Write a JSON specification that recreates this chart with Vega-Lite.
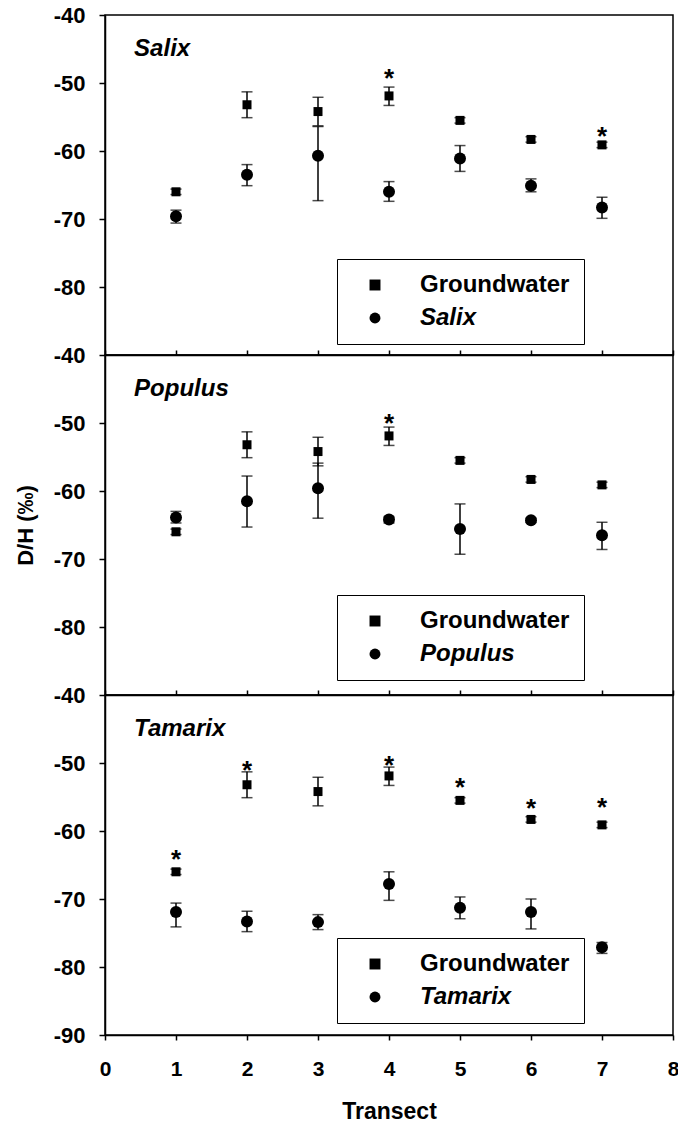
{
  "$schema": "https://vega.github.io/schema/vega-lite/v6.json",
  "padding": {"left": 13, "top": 3, "right": 0, "bottom": 0},
  "spacing": 0,
  "bounds": "flush",
  "config": {
    "view": {"stroke": "black", "strokeWidth": 1.5},
    "axis": {"grid": false, "labelFont": "Liberation Sans", "labelFontWeight": "bold", "labelFontSize": 21, "labelColor": "black",
      "titleFont": "Liberation Sans", "titleFontWeight": "bold", "titleColor": "black",
      "tickColor": "black", "tickWidth": 1.5, "domainColor": "black", "domainWidth": 1.5},
    "axisY": {"labelExpr": "'-' + abs(datum.value)", "labelFontSize": 22},
    "legend": {"labelFont": "Liberation Sans", "labelFontWeight": "bold", "labelFontSize": 24, "labelColor": "black"},
    "text": {"font": "Liberation Sans"}
  },
  "datasets": {
    "pts": [
      {"panel": "Salix", "series": "Groundwater", "transect": 1, "value": -66.0, "lo": -66.4, "hi": -65.6},
      {"panel": "Salix", "series": "Groundwater", "transect": 2, "value": -53.2, "lo": -55.1, "hi": -51.3},
      {"panel": "Salix", "series": "Groundwater", "transect": 3, "value": -54.2, "lo": -56.3, "hi": -52.1},
      {"panel": "Salix", "series": "Groundwater", "transect": 4, "value": -51.9, "lo": -53.3, "hi": -50.6},
      {"panel": "Salix", "series": "Groundwater", "transect": 5, "value": -55.5, "lo": -55.9, "hi": -55.1},
      {"panel": "Salix", "series": "Groundwater", "transect": 6, "value": -58.3, "lo": -58.7, "hi": -57.9},
      {"panel": "Salix", "series": "Groundwater", "transect": 7, "value": -59.1, "lo": -59.5, "hi": -58.7},
      {"panel": "Salix", "series": "Salix", "transect": 1, "value": -69.6, "lo": -70.6, "hi": -68.7},
      {"panel": "Salix", "series": "Salix", "transect": 2, "value": -63.5, "lo": -65.1, "hi": -62.0},
      {"panel": "Salix", "series": "Salix", "transect": 3, "value": -60.7, "lo": -67.3, "hi": -56.4},
      {"panel": "Salix", "series": "Salix", "transect": 4, "value": -66.0, "lo": -67.4, "hi": -64.5},
      {"panel": "Salix", "series": "Salix", "transect": 5, "value": -61.1, "lo": -63.0, "hi": -59.2},
      {"panel": "Salix", "series": "Salix", "transect": 6, "value": -65.1, "lo": -66.0, "hi": -64.1},
      {"panel": "Salix", "series": "Salix", "transect": 7, "value": -68.3, "lo": -69.9, "hi": -66.8},
      {"panel": "Populus", "series": "Groundwater", "transect": 1, "value": -66.0, "lo": -66.4, "hi": -65.6},
      {"panel": "Populus", "series": "Groundwater", "transect": 2, "value": -53.2, "lo": -55.1, "hi": -51.3},
      {"panel": "Populus", "series": "Groundwater", "transect": 3, "value": -54.2, "lo": -56.3, "hi": -52.1},
      {"panel": "Populus", "series": "Groundwater", "transect": 4, "value": -51.9, "lo": -53.3, "hi": -50.6},
      {"panel": "Populus", "series": "Groundwater", "transect": 5, "value": -55.5, "lo": -55.9, "hi": -55.1},
      {"panel": "Populus", "series": "Groundwater", "transect": 6, "value": -58.3, "lo": -58.7, "hi": -57.9},
      {"panel": "Populus", "series": "Groundwater", "transect": 7, "value": -59.1, "lo": -59.5, "hi": -58.7},
      {"panel": "Populus", "series": "Populus", "transect": 1, "value": -63.9, "lo": -64.7, "hi": -63.0},
      {"panel": "Populus", "series": "Populus", "transect": 2, "value": -61.5, "lo": -65.3, "hi": -57.8},
      {"panel": "Populus", "series": "Populus", "transect": 3, "value": -59.6, "lo": -64.0, "hi": -55.9},
      {"panel": "Populus", "series": "Populus", "transect": 4, "value": -64.2, "lo": -64.7, "hi": -63.8},
      {"panel": "Populus", "series": "Populus", "transect": 5, "value": -65.6, "lo": -69.3, "hi": -61.9},
      {"panel": "Populus", "series": "Populus", "transect": 6, "value": -64.3, "lo": -64.6, "hi": -64.0},
      {"panel": "Populus", "series": "Populus", "transect": 7, "value": -66.5, "lo": -68.6, "hi": -64.6},
      {"panel": "Tamarix", "series": "Groundwater", "transect": 1, "value": -66.0, "lo": -66.4, "hi": -65.6},
      {"panel": "Tamarix", "series": "Groundwater", "transect": 2, "value": -53.2, "lo": -55.1, "hi": -51.3},
      {"panel": "Tamarix", "series": "Groundwater", "transect": 3, "value": -54.2, "lo": -56.3, "hi": -52.1},
      {"panel": "Tamarix", "series": "Groundwater", "transect": 4, "value": -51.9, "lo": -53.3, "hi": -50.6},
      {"panel": "Tamarix", "series": "Groundwater", "transect": 5, "value": -55.5, "lo": -55.9, "hi": -55.1},
      {"panel": "Tamarix", "series": "Groundwater", "transect": 6, "value": -58.3, "lo": -58.7, "hi": -57.9},
      {"panel": "Tamarix", "series": "Groundwater", "transect": 7, "value": -59.1, "lo": -59.5, "hi": -58.7},
      {"panel": "Tamarix", "series": "Tamarix", "transect": 1, "value": -71.9, "lo": -74.1, "hi": -70.6},
      {"panel": "Tamarix", "series": "Tamarix", "transect": 2, "value": -73.3, "lo": -74.8, "hi": -71.8},
      {"panel": "Tamarix", "series": "Tamarix", "transect": 3, "value": -73.4, "lo": -74.5, "hi": -72.3},
      {"panel": "Tamarix", "series": "Tamarix", "transect": 4, "value": -67.8, "lo": -70.2, "hi": -66.0},
      {"panel": "Tamarix", "series": "Tamarix", "transect": 5, "value": -71.3, "lo": -72.9, "hi": -69.7},
      {"panel": "Tamarix", "series": "Tamarix", "transect": 6, "value": -71.9, "lo": -74.4, "hi": -70.0},
      {"panel": "Tamarix", "series": "Tamarix", "transect": 7, "value": -77.1, "lo": -78.0, "hi": -76.4}
    ],
    "stars": [
      {"panel": "Salix", "transect": 4, "star": -48.6},
      {"panel": "Salix", "transect": 7, "star": -57.1},
      {"panel": "Populus", "transect": 4, "star": -49.3},
      {"panel": "Tamarix", "transect": 1, "star": -63.4},
      {"panel": "Tamarix", "transect": 2, "star": -50.3},
      {"panel": "Tamarix", "transect": 4, "star": -49.6},
      {"panel": "Tamarix", "transect": 5, "star": -52.8},
      {"panel": "Tamarix", "transect": 6, "star": -55.9},
      {"panel": "Tamarix", "transect": 7, "star": -55.7}
    ]
  },
  "resolve": {"scale": {"shape": "independent"}, "legend": {"shape": "independent"}},
  "vconcat": [
    {
      "width": 568, "height": 340,
      "data": {"name": "pts"},
      "transform": [{"filter": "datum.panel == 'Salix'"}],
      "layer": [
        {"mark": {"type": "errorbar", "ticks": {"size": 11, "thickness": 1.5, "color": "black"}, "rule": {"strokeWidth": 1.5, "color": "black"}},
         "encoding": {
           "x": {"field": "transect", "type": "quantitative", "scale": {"domain": [0, 8], "nice": false},
                 "axis": {"values": [0,1,2,3,4,5,6,7,8], "labels": false, "tickSize": -5, "title": null}},
           "y": {"field": "lo", "type": "quantitative", "scale": {"domain": [-90, -40], "nice": false},
                 "axis": {"values": [-40,-50,-60,-70,-80], "tickSize": 6, "labelPadding": 14, "title": null}},
           "y2": {"field": "hi"}}},
        {"transform": [{"filter": "datum.series == 'Groundwater'"}],
         "mark": {"type": "point", "filled": true, "size": 81, "opacity": 1, "color": "black"},
         "encoding": {"x": {"field": "transect", "type": "quantitative"}, "y": {"field": "value", "type": "quantitative"},
           "shape": {"field": "series", "type": "nominal", "scale": {"domain": ["Groundwater", "Salix"], "range": ["square", "circle"]},
             "legend": {"orient": "none", "legendX": 232, "legendY": 244, "title": null, "padding": 14, "symbolOffset": 12, "labelOffset": 33,
               "rowPadding": 9, "strokeColor": "black", "fillColor": "white", "symbolSize": 120, "symbolFillColor": "black", "symbolStrokeWidth": 0,
               "labelFontStyle": {"expr": "datum.label == 'Groundwater' ? 'normal' : 'italic'"}}}}},
        {"transform": [{"filter": "datum.series != 'Groundwater'"}],
         "mark": {"type": "point", "filled": true, "size": 144, "opacity": 1, "color": "black"},
         "encoding": {"x": {"field": "transect", "type": "quantitative"}, "y": {"field": "value", "type": "quantitative"},
           "shape": {"field": "series", "type": "nominal"}}},
        {"data": {"name": "stars"}, "transform": [{"filter": "datum.panel == 'Salix'"}],
         "mark": {"type": "text", "text": "*", "fontSize": 26, "fontWeight": "bold", "baseline": "alphabetic", "dy": 14, "color": "black"},
         "encoding": {"x": {"field": "transect", "type": "quantitative"}, "y": {"field": "star", "type": "quantitative"}}},
        {"data": {"values": [{"label": "Salix"}]},
         "mark": {"type": "text", "fontSize": 24, "fontWeight": "bold", "fontStyle": "italic", "align": "left", "baseline": "alphabetic", "color": "black"},
         "encoding": {"text": {"field": "label"}, "x": {"datum": 0.41, "type": "quantitative"}, "y": {"datum": -46, "type": "quantitative"}}}
      ]
    },
    {
      "width": 568, "height": 340,
      "data": {"name": "pts"},
      "transform": [{"filter": "datum.panel == 'Populus'"}],
      "layer": [
        {"mark": {"type": "errorbar", "ticks": {"size": 11, "thickness": 1.5, "color": "black"}, "rule": {"strokeWidth": 1.5, "color": "black"}},
         "encoding": {
           "x": {"field": "transect", "type": "quantitative", "scale": {"domain": [0, 8], "nice": false},
                 "axis": {"values": [0,1,2,3,4,5,6,7,8], "labels": false, "tickSize": -5, "title": null}},
           "y": {"field": "lo", "type": "quantitative", "scale": {"domain": [-90, -40], "nice": false},
                 "axis": {"values": [-40,-50,-60,-70,-80], "tickSize": 6, "labelPadding": 14, "title": "D/H (‰)", "titleFontSize": 22, "titlePadding": 16}},
           "y2": {"field": "hi"}}},
        {"transform": [{"filter": "datum.series == 'Groundwater'"}],
         "mark": {"type": "point", "filled": true, "size": 81, "opacity": 1, "color": "black"},
         "encoding": {"x": {"field": "transect", "type": "quantitative"}, "y": {"field": "value", "type": "quantitative"},
           "shape": {"field": "series", "type": "nominal", "scale": {"domain": ["Groundwater", "Populus"], "range": ["square", "circle"]},
             "legend": {"orient": "none", "legendX": 232, "legendY": 240, "title": null, "padding": 14, "symbolOffset": 12, "labelOffset": 33,
               "rowPadding": 9, "strokeColor": "black", "fillColor": "white", "symbolSize": 120, "symbolFillColor": "black", "symbolStrokeWidth": 0,
               "labelFontStyle": {"expr": "datum.label == 'Groundwater' ? 'normal' : 'italic'"}}}}},
        {"transform": [{"filter": "datum.series != 'Groundwater'"}],
         "mark": {"type": "point", "filled": true, "size": 144, "opacity": 1, "color": "black"},
         "encoding": {"x": {"field": "transect", "type": "quantitative"}, "y": {"field": "value", "type": "quantitative"},
           "shape": {"field": "series", "type": "nominal"}}},
        {"data": {"name": "stars"}, "transform": [{"filter": "datum.panel == 'Populus'"}],
         "mark": {"type": "text", "text": "*", "fontSize": 26, "fontWeight": "bold", "baseline": "alphabetic", "dy": 14, "color": "black"},
         "encoding": {"x": {"field": "transect", "type": "quantitative"}, "y": {"field": "star", "type": "quantitative"}}},
        {"data": {"values": [{"label": "Populus"}]},
         "mark": {"type": "text", "fontSize": 24, "fontWeight": "bold", "fontStyle": "italic", "align": "left", "baseline": "alphabetic", "color": "black"},
         "encoding": {"text": {"field": "label"}, "x": {"datum": 0.41, "type": "quantitative"}, "y": {"datum": -46, "type": "quantitative"}}}
      ]
    },
    {
      "width": 568, "height": 340,
      "data": {"name": "pts"},
      "transform": [{"filter": "datum.panel == 'Tamarix'"}],
      "layer": [
        {"mark": {"type": "errorbar", "ticks": {"size": 11, "thickness": 1.5, "color": "black"}, "rule": {"strokeWidth": 1.5, "color": "black"}},
         "encoding": {
           "x": {"field": "transect", "type": "quantitative", "scale": {"domain": [0, 8], "nice": false},
                 "axis": {"values": [0,1,2,3,4,5,6,7,8], "format": "d", "tickSize": 5, "labelPadding": 18, "labelFlush": false, "title": "Transect", "titleFontSize": 23, "titlePadding": 21}},
           "y": {"field": "lo", "type": "quantitative", "scale": {"domain": [-90, -40], "nice": false},
                 "axis": {"values": [-40,-50,-60,-70,-80,-90], "tickSize": 6, "labelPadding": 14, "title": null}},
           "y2": {"field": "hi"}}},
        {"transform": [{"filter": "datum.series == 'Groundwater'"}],
         "mark": {"type": "point", "filled": true, "size": 81, "opacity": 1, "color": "black"},
         "encoding": {"x": {"field": "transect", "type": "quantitative"}, "y": {"field": "value", "type": "quantitative"},
           "shape": {"field": "series", "type": "nominal", "scale": {"domain": ["Groundwater", "Tamarix"], "range": ["square", "circle"]},
             "legend": {"orient": "none", "legendX": 232, "legendY": 243, "title": null, "padding": 14, "symbolOffset": 12, "labelOffset": 33,
               "rowPadding": 9, "strokeColor": "black", "fillColor": "white", "symbolSize": 120, "symbolFillColor": "black", "symbolStrokeWidth": 0,
               "labelFontStyle": {"expr": "datum.label == 'Groundwater' ? 'normal' : 'italic'"}}}}},
        {"transform": [{"filter": "datum.series != 'Groundwater'"}],
         "mark": {"type": "point", "filled": true, "size": 144, "opacity": 1, "color": "black"},
         "encoding": {"x": {"field": "transect", "type": "quantitative"}, "y": {"field": "value", "type": "quantitative"},
           "shape": {"field": "series", "type": "nominal"}}},
        {"data": {"name": "stars"}, "transform": [{"filter": "datum.panel == 'Tamarix'"}],
         "mark": {"type": "text", "text": "*", "fontSize": 26, "fontWeight": "bold", "baseline": "alphabetic", "dy": 14, "color": "black"},
         "encoding": {"x": {"field": "transect", "type": "quantitative"}, "y": {"field": "star", "type": "quantitative"}}},
        {"data": {"values": [{"label": "Tamarix"}]},
         "mark": {"type": "text", "fontSize": 24, "fontWeight": "bold", "fontStyle": "italic", "align": "left", "baseline": "alphabetic", "color": "black"},
         "encoding": {"text": {"field": "label"}, "x": {"datum": 0.41, "type": "quantitative"}, "y": {"datum": -46, "type": "quantitative"}}}
      ]
    }
  ]
}
